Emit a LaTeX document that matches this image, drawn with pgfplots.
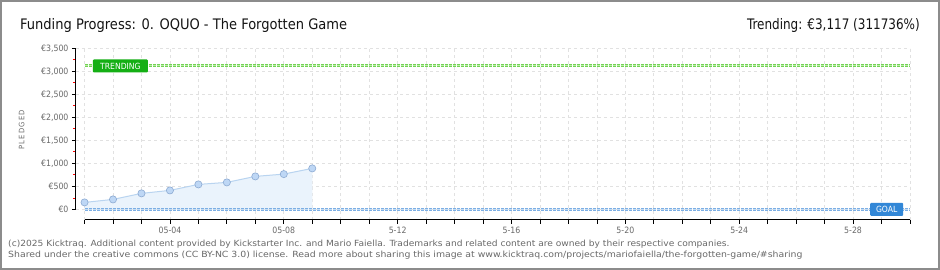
\documentclass[border=0pt]{standalone}
\usepackage{pgfplots}
\pgfplotsset{compat=1.18}
\usepackage{fontspec}
\setmainfont{DejaVu Sans Condensed}
\definecolor{framegray}{RGB}{140,140,140}
\definecolor{txtgray}{RGB}{105,105,105}
\definecolor{titlec}{RGB}{20,20,20}
\definecolor{gridc}{RGB}{225,225,225}
\definecolor{areablue}{RGB}{234,243,252}
\definecolor{lineblue}{RGB}{185,212,240}
\definecolor{markfill}{RGB}{190,215,245}
\definecolor{markdraw}{RGB}{140,170,210}
\definecolor{trendout}{RGB}{115,210,85}
\definecolor{trendin}{RGB}{185,238,165}
\definecolor{trendbox}{RGB}{20,175,20}
\definecolor{goalout}{RGB}{125,175,228}
\definecolor{goalin}{RGB}{195,220,245}
\definecolor{goalbox}{RGB}{50,135,215}
\begin{document}
\begin{tikzpicture}[x=1pt,y=1pt]
\useasboundingbox (0,0) rectangle (940,270);
\fill[white] (0,0) rectangle (940,270);
\draw[line width=2pt, framegray] (1,1) rectangle (939,269);
\node[anchor=base west, inner sep=0pt, text=titlec, font=\fontsize{14.5}{16}\selectfont] at (20,240) {Funding Progress: 0. OQUO - The Forgotten Game};
\node[anchor=base east, inner sep=0pt, text=titlec, font=\fontsize{14.5}{16}\selectfont, xscale=0.92] at (920,240) {Trending: €3,117 (311736\%)};
\node[anchor=base west, inner sep=0pt, text=txtgray, font=\fontsize{8.5}{9}\selectfont, xscale=1.19] at (8,23) {(c)2025 Kicktraq. Additional content provided by Kickstarter Inc. and Mario Faiella. Trademarks and related content are owned by their respective companies.};
\node[anchor=base west, inner sep=0pt, text=txtgray, font=\fontsize{8.5}{9}\selectfont, xscale=1.22] at (8,12) {Shared under the creative commons (CC BY-NC 3.0) license. Read more about sharing this image at www.kicktraq.com/projects/mariofaiella/the-forgotten-game/\#sharing};
\node[rotate=90, inner sep=0pt, text=txtgray, font=\fontsize{7.5}{8}\selectfont] at (21.7,140) {P\,L\,E\,D\,G\,E\,D};
\begin{axis}[
  at={(76pt,50pt)}, anchor=south west, scale only axis,
  width=834pt, height=171.7pt,
  xmin=0.7, xmax=30, ymin=-230, ymax=3500,
  axis line style={draw=none},
  xtick={1,...,30},
  xticklabels={,,,05-04,,,,05-08,,,,5-12,,,,5-16,,,,5-20,,,,5-24,,,,5-28,,},
  ytick={0,500,...,3500},
  yticklabels={€0,€500,{€1,000},{€1,500},{€2,000},{€2,500},{€3,000},{€3,500}},
  minor ytick={250,750,...,3250},
  xtick pos=bottom, ytick pos=left,
  tick align=outside,
  major tick length=4pt, minor tick length=3pt,
  tick style={black, line width=0.8pt},
  minor tick style={red, line width=0.8pt},
  grid=major,
  major grid style={dashed, gridc, line width=0.8pt},
  ticklabel style={text=txtgray, font=\fontsize{8.7}{9}\selectfont},
  /pgf/number format/assume math mode=true,
  clip=false,
]
\draw[black, line width=1pt] (axis cs:0.7,0) -- (axis cs:0.7,3500);
\draw[black, line width=1pt] (axis cs:1,-230) -- (axis cs:30,-230);
\addplot[draw=none, fill=areablue] coordinates {(1,152) (2,217) (3,348) (4,413) (5,543) (6,587) (7,717) (8,767) (9,891)} \closedcycle;
\addplot[trendout, line width=3pt, dash pattern=on 3pt off 1pt] coordinates {(1,3117) (30,3117)};
\addplot[trendin, line width=1pt, dash pattern=on 3pt off 1pt] coordinates {(1,3117) (30,3117)};
\addplot[goalout, line width=3pt, dash pattern=on 3pt off 1pt] coordinates {(1,1) (30,1)};
\addplot[goalin, line width=1pt, dash pattern=on 3pt off 1pt] coordinates {(1,1) (30,1)};
\addplot[lineblue, line width=1pt, mark=*, mark size=3.6pt, mark options={fill=markfill, draw=markdraw, line width=0.6pt}] coordinates {(1,152) (2,217) (3,348) (4,413) (5,543) (6,587) (7,717) (8,767) (9,891)};
\node[fill=trendbox, text=white, font=\fontsize{8.5}{8}\selectfont, minimum width=55pt, minimum height=13pt, inner sep=0pt, rounded corners=1pt] at (axis cs:2.26,3117) {TRENDING};
\node[fill=goalbox, text=white, font=\fontsize{8.5}{8}\selectfont, minimum width=33pt, minimum height=13pt, inner sep=0pt, rounded corners=1pt] at (axis cs:29.18,1) {GOAL};
\end{axis}
\end{tikzpicture}
\end{document}
